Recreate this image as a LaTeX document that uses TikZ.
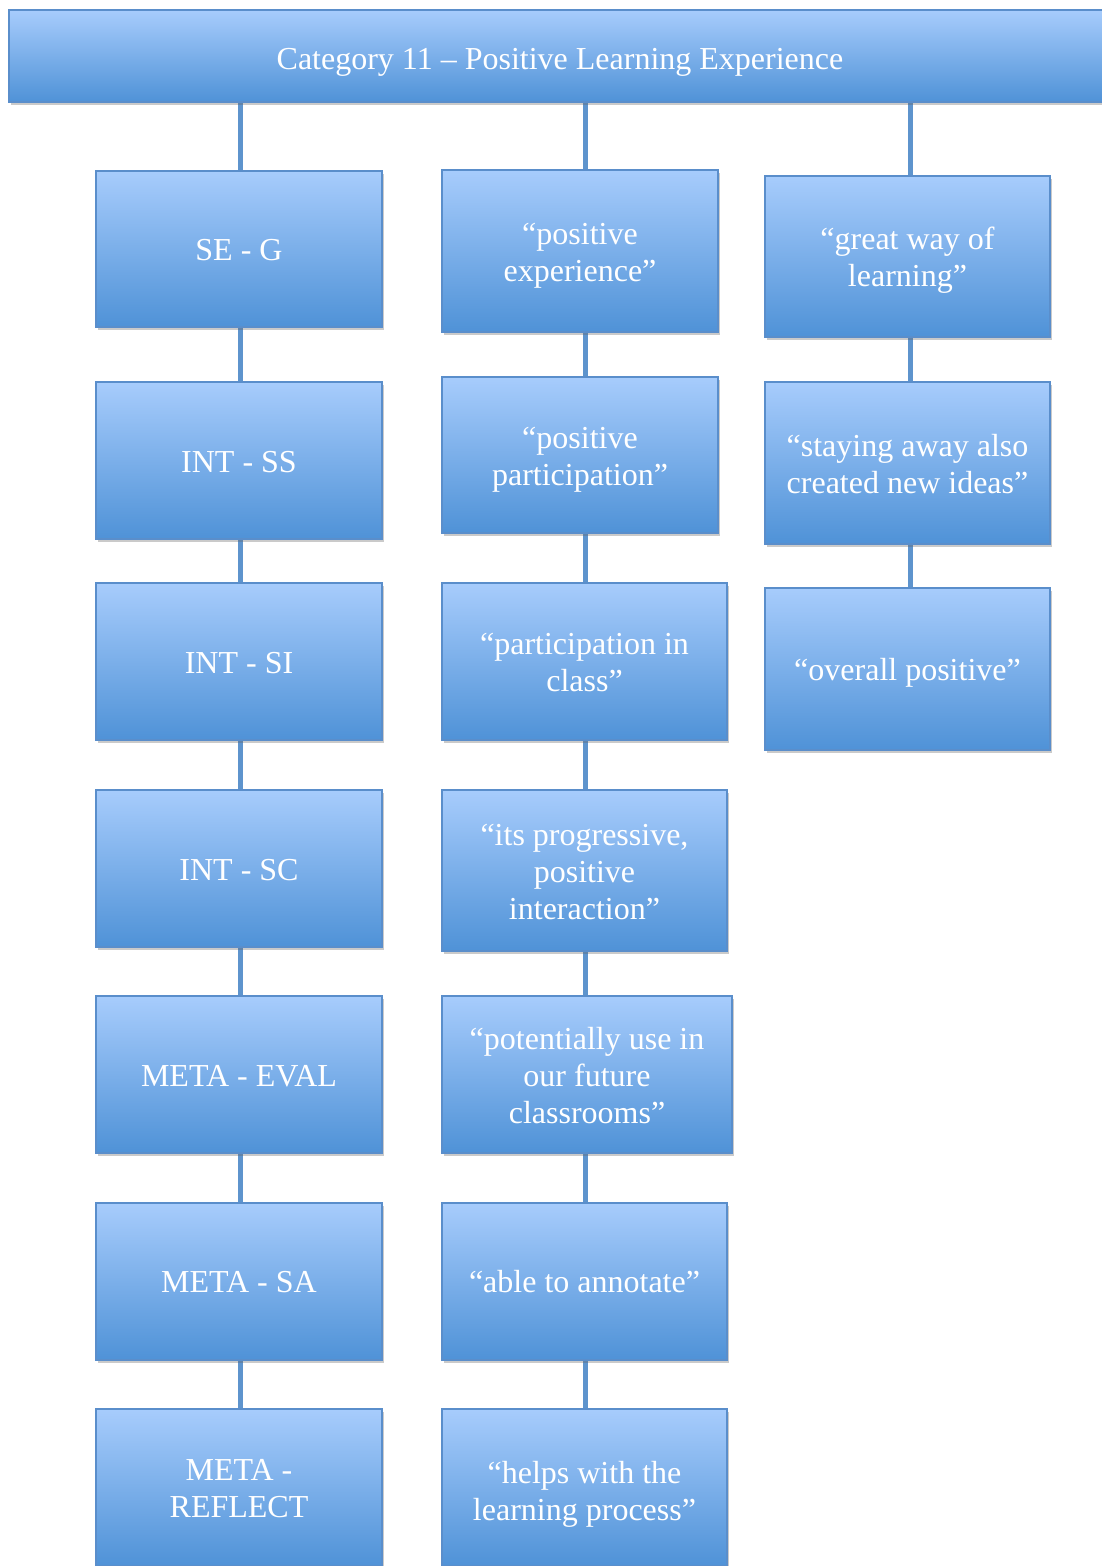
\documentclass[tikz,border=0pt]{standalone}
\usepackage{fontspec}
\setmainfont{Liberation Serif}
\usetikzlibrary{shadows,backgrounds}
\definecolor{boxtop}{HTML}{A7CCFC}
\definecolor{boxbot}{HTML}{4F92D7}
\definecolor{boxline}{HTML}{5A8ECB}
\definecolor{conn}{HTML}{5E94CD}
\newcommand{\tx}[2][3pt]{\raisebox{-#1}[\height][\depth]{\begin{tabular}{@{}c@{}}#2\end{tabular}}}
\tikzset{
  cbox/.style={rectangle, draw=boxline, line width=1.5pt, top color=boxtop, bottom color=boxbot,
    text=white, align=center, inner sep=0pt,
    font=\fontsize{32}{37}\selectfont,
    drop shadow={shadow xshift=2pt, shadow yshift=-3pt, opacity=0.35, fill=black!60}},
  link/.style={draw=conn, line width=5pt}
}
\begin{document}
\begin{tikzpicture}[x=1pt,y=-1pt]
\useasboundingbox (0,0) rectangle (1102,1566);
\clip (0,0) rectangle (1102,1566);
% banner
\node[cbox, minimum width=1102pt, minimum height=92pt] (top) at (560,56) {\tx[6pt]{Category 11 – Positive Learning Experience}};
% column 1
\node[cbox, minimum width=286pt, minimum height=156pt] (a1) at (239,249) {\tx[4pt]{SE - G}};
\node[cbox, minimum width=286pt, minimum height=157pt] (a2) at (239,460.5) {\tx[5pt]{INT - SS}};
\node[cbox, minimum width=286pt, minimum height=157pt] (a3) at (239,661.5) {\tx[5pt]{INT - SI}};
\node[cbox, minimum width=286pt, minimum height=157pt] (a4) at (239,868.5) {\tx[5pt]{INT - SC}};
\node[cbox, minimum width=286pt, minimum height=157pt] (a5) at (239,1074.5) {\tx[5pt]{META - EVAL}};
\node[cbox, minimum width=286pt, minimum height=157pt] (a6) at (239,1281.5) {\tx[4pt]{META - SA}};
\node[cbox, minimum width=286pt, minimum height=157pt] (a7) at (239,1487.5) {\tx[4pt]{META -\\REFLECT}};
% column 2
\node[cbox, minimum width=276pt, minimum height=162pt] (b1) at (580,251) {\tx[5pt]{“positive\\experience”}};
\node[cbox, minimum width=276pt, minimum height=156pt] (b2) at (580,455) {\tx[5pt]{“positive\\participation”}};
\node[cbox, minimum width=285pt, minimum height=157pt] (b3) at (584.5,661.5) {\tx[4pt]{“participation in\\class”}};
\node[cbox, minimum width=285pt, minimum height=161pt] (b4) at (584.5,870.5) {\tx[5pt]{“its progressive,\\positive\\interaction”}};
\node[cbox, minimum width=290pt, minimum height=157pt] (b5) at (587,1074.5) {\tx[5pt]{“potentially use in\\our future\\classrooms”}};
\node[cbox, minimum width=285pt, minimum height=157pt] (b6) at (584.5,1281.5) {\tx[4pt]{“able to annotate”}};
\node[cbox, minimum width=285pt, minimum height=157pt] (b7) at (584.5,1487.5) {\tx[7pt]{“helps with the\\learning process”}};
% column 3
\node[cbox, minimum width=285pt, minimum height=161pt] (c1) at (907.5,256.5) {\tx[4pt]{“great way of\\learning”}};
\node[cbox, minimum width=285pt, minimum height=162pt] (c2) at (907.5,463) {\tx[5pt]{“staying away also\\created new ideas”}};
\node[cbox, minimum width=285pt, minimum height=162pt] (c3) at (907.5,669) {\tx[4pt]{“overall positive”}};
\coordinate (x1) at (240,0);
\coordinate (x2) at (585,0);
\coordinate (x3) at (910,0);
\begin{scope}[on background layer]
\draw[link] (top.south -| x1) -- (a1.north -| x1);
\draw[link] (top.south -| x2) -- (b1.north -| x2);
\draw[link] (top.south -| x3) -- (c1.north -| x3);
\foreach \p/\q in {a1/a2,a2/a3,a3/a4,a4/a5,a5/a6,a6/a7}
  \draw[link] (\p.south -| x1) -- (\q.north -| x1);
\foreach \p/\q in {b1/b2,b2/b3,b3/b4,b4/b5,b5/b6,b6/b7}
  \draw[link] (\p.south -| x2) -- (\q.north -| x2);
\foreach \p/\q in {c1/c2,c2/c3}
  \draw[link] (\p.south -| x3) -- (\q.north -| x3);
\end{scope}
\end{tikzpicture}
\end{document}
